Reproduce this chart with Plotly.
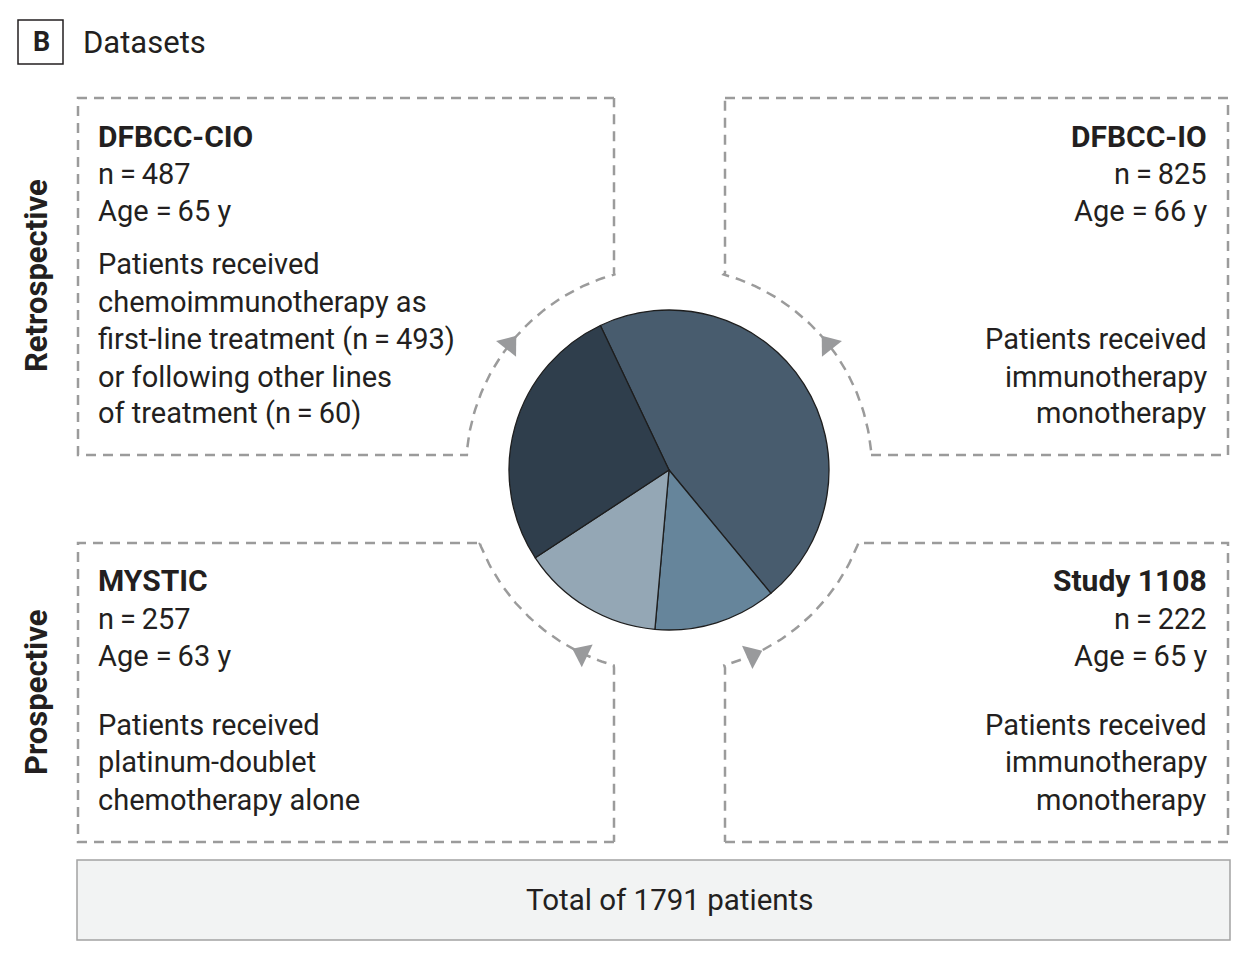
import numpy as np
import plotly.graph_objects as go

# ---- data ----
datasets = ["DFBCC-IO", "Study 1108", "MYSTIC", "DFBCC-CIO"]
patients = [825, 222, 257, 487]
ages = [66, 65, 63, 65]
slice_colors = ["#485c6e", "#66859b", "#94a7b5", "#2f3e4c"]
descriptions = {
    "DFBCC-CIO": ["Patients received", "chemoimmunotherapy as",
                  "first-line treatment (n\u2009=\u2009493)",
                  "or following other lines", "of treatment (n\u2009=\u200960)"],
    "DFBCC-IO": ["Patients received", "immunotherapy", "monotherapy"],
    "MYSTIC": ["Patients received", "platinum-doublet", "chemotherapy alone"],
    "Study 1108": ["Patients received", "immunotherapy", "monotherapy"],
}
row_labels = ["Retrospective", "Prospective"]
panel_letter = "B"
panel_title = "Datasets"
total_label = "Total of {} patients".format(sum(patients))

# ---- layout constants (page pixels) ----
W, H = 1246, 968
OFF = 8                         # default page body margin
FW, FH = W - 2 * OFF, H - 2 * OFF
CX, CY, PR = 669, 470, 160      # pie centre and radius
AR = 203                        # radius of dashed arcs
FONT = "Roboto, Arial, sans-serif"
TXT = "#231f20"
DASHC = "#9b9b9b"

fig = go.Figure()

def arc(t0, t1, n=60):
    t = np.radians(np.linspace(t0, t1, n))
    return list(CX + AR * np.sin(t)), list(CY - AR * np.cos(t))

def outline(pts_before, arc_a, arc_b, pts_after):
    ax, ay = arc(arc_a, arc_b)
    xs = [p[0] for p in pts_before] + ax + [p[0] for p in pts_after]
    ys = [p[1] for p in pts_before] + ay + [p[1] for p in pts_after]
    fig.add_trace(go.Scatter(x=xs, y=ys, mode="lines",
                             line=dict(color=DASHC, width=2.5, dash="10px,7px"),
                             hoverinfo="skip", showlegend=False))

# top-left
outline([(614, 98), (78, 98), (78, 455), (468, 455)], -85.7, -15.6, [(614, 273), (614, 98)])
# top-right
outline([(725, 98), (1228, 98), (1228, 455), (870, 455)], 85.7, 15.6, [(725, 273), (725, 98)])
# bottom-left
outline([(614, 842), (78, 842), (78, 543), (482, 543)], 248.7, 195.8, [(614, 668), (614, 842)])
# bottom-right
outline([(725, 842), (1228, 842), (1228, 543), (858, 543)], 111.1, 164.2, [(725, 668), (725, 842)])

# arrowheads on arcs: (angle from top clockwise, clockwise?)
arrow_pos = [(-51.8, True), (51.8, False), (205.3, True), (155.8, False)]
for th, cw in arrow_pos:
    t = np.radians(th)
    fig.add_trace(go.Scatter(
        x=[CX + AR * np.sin(t)], y=[CY - AR * np.cos(t)], mode="markers",
        marker=dict(symbol="triangle-up", size=22, color="#999a9c",
                    angle=th + 90 if cw else th - 90, line=dict(width=0)),
        hoverinfo="skip", showlegend=False))

# pie
fig.add_trace(go.Pie(
    labels=datasets, values=patients, sort=False, direction="clockwise",
    rotation=-25.4, textinfo="none", hoverinfo="skip", showlegend=False,
    marker=dict(colors=slice_colors, line=dict(color="#1e1e1e", width=1.3)),
    domain=dict(x=[(CX - OFF - PR) / FW, (CX - OFF + PR) / FW],
                y=[1 - (CY - OFF + PR) / FH, 1 - (CY - OFF - PR) / FH])))

ann = []
def txt(x, y, s, anchor="left", size=29, bold=False, angle=0):
    ann.append(dict(x=x, y=y, xref="x", yref="y", text=("<b>%s</b>" % s) if bold else s,
                    showarrow=False, xanchor=anchor, yanchor="middle", textangle=angle,
                    font=dict(family=FONT, size=size, color=TXT)))

# box text blocks
blocks = {
    "DFBCC-CIO": (96, "left", 136, [174, 211], [264, 302, 339, 377, 413]),
    "DFBCC-IO": (1209, "right", 136, [174, 211], [339, 377, 413]),
    "MYSTIC": (96, "left", 580, [619, 656], [725, 762, 800]),
    "Study 1108": (1209, "right", 580, [619, 656], [725, 762, 800]),
}
for name, n, age in zip(datasets, patients, ages):
    x, anc, ty, (ny, ay), dys = blocks[name]
    txt(x, ty, name, anc, size=30, bold=True)
    txt(x, ny, "n\u2009=\u2009%d" % n, anc)
    txt(x, ay, "Age\u00a0=\u2009%d y" % age, anc)
    for yy, line in zip(dys, descriptions[name]):
        txt(x, yy, line, anc)

# row labels
txt(36, 276, row_labels[0], "center", size=31, bold=True, angle=-90)
txt(36, 692, row_labels[1], "center", size=31, bold=True, angle=-90)

# panel header
txt(41, 42, panel_letter, "center", size=27, bold=True)
txt(81, 42, panel_title, "left", size=31)

# total
txt(669, 900, total_label, "center", size=29.5)

shapes = [
    dict(type="rect", x0=18, y0=20, x1=63, y1=64, xref="x", yref="y",
         line=dict(color="#231f20", width=1.5), fillcolor="rgba(0,0,0,0)"),
    dict(type="rect", x0=77, y0=860, x1=1230, y1=940, xref="x", yref="y",
         line=dict(color="#a3a3a3", width=1.5), fillcolor="#f2f3f3", layer="below"),
]

fig.update_layout(
    width=FW, height=FH, margin=dict(l=0, r=0, t=0, b=0),
    paper_bgcolor="white", plot_bgcolor="white",
    xaxis=dict(range=[OFF, W - OFF], visible=False, fixedrange=True),
    yaxis=dict(range=[H - OFF, OFF], visible=False, fixedrange=True),
    annotations=ann, shapes=shapes, showlegend=False,
)
fig.write_html("out.html")
